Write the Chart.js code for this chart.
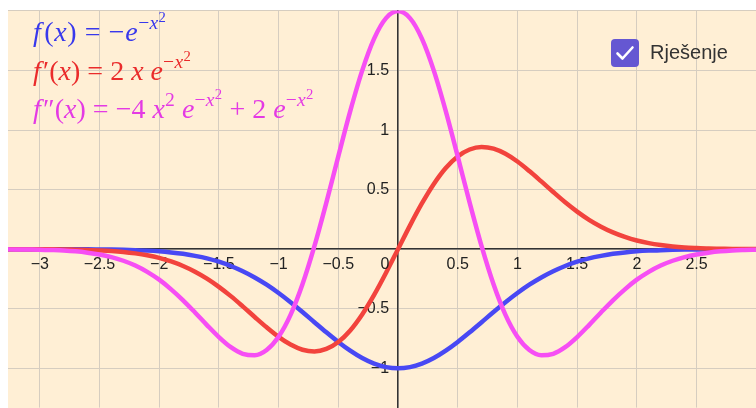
<!DOCTYPE html>
<html>
<head>
<meta charset="utf-8">
<script src="https://cdn.jsdelivr.net/npm/chart.js@4"></script>
<style>
  html, body { margin: 0; padding: 0; background: #fff; }
  body { width: 756px; height: 408px; position: relative; overflow: hidden; }
  #plot { position: absolute; left: 8px; top: 10px; width: 748px; height: 398px; background: #ffefd5; }
  .formula { position: absolute; left: 33px; font-family: "Liberation Serif", "DejaVu Serif", serif; font-size: 28px; line-height: 28px; white-space: nowrap; letter-spacing: 0; }
  .formula i { font-style: italic; }
  .sup { font-size: 0.7em; position: relative; top: -0.62em; letter-spacing: 0.3px; }
  .sup .sup { font-size: 0.75em; top: -0.5em; }
  #f1 { top: 18px; color: #3838ec; letter-spacing: 0.6px; }
  #f2 { top: 57px; color: #ea2b2b; }
  #f3 { top: 95px; color: #e43ae4; }
  #cb { position: absolute; left: 611px; top: 39px; width: 28px; height: 28px; background: #6557d2; border-radius: 4px; }
  #cbl { position: absolute; left: 650px; top: 42px; font: 20px "Liberation Sans", Arial, sans-serif; line-height: 20px; color: #333; }
</style>
</head>
<body>
<div id="plot"><canvas id="graph"></canvas></div>

<div class="formula" id="f1"><i>f</i>&#8202;(<i>x</i>) = −<i>e</i><span class="sup">−<i>x</i><span class="sup">2</span></span></div>
<div class="formula" id="f2"><i>f</i>&#8202;′(<i>x</i>) = 2 <i>x</i> <i>e</i><span class="sup">−<i>x</i><span class="sup">2</span></span></div>
<div class="formula" id="f3"><i>f</i>&#8202;″(<i>x</i>) = −4 <i>x</i><span class="sup">2</span> <i>e</i><span class="sup">−<i>x</i><span class="sup">2</span></span> + 2 <i>e</i><span class="sup">−<i>x</i><span class="sup">2</span></span></div>

<div id="cb">
  <svg width="28" height="28" viewBox="0 0 28 28"><polyline points="6.5 14.5 11.5 19.5 21.5 8.5" fill="none" stroke="#fff" stroke-width="2.6" stroke-linecap="round" stroke-linejoin="round"/></svg>
</div>
<div id="cbl">Rješenje</div>

<script>
// sample positions along x
const xs = [-3.3,-3.2,-3.1,-3.0,-2.9,-2.8,-2.7,-2.6,-2.5,-2.4,-2.3,-2.2,-2.1,-2.0,-1.9,-1.8,-1.7,-1.6,-1.5,-1.4,-1.3,-1.2,-1.1,-1.0,-0.9,-0.8,-0.7,-0.6,-0.5,-0.4,-0.3,-0.2,-0.1,0,
  0.1,0.2,0.3,0.4,0.5,0.6,0.7,0.8,0.9,1.0,1.1,1.2,1.3,1.4,1.5,1.6,1.7,1.8,1.9,2.0,2.1,2.2,2.3,2.4,2.5,2.6,2.7,2.8,2.9,3.0];

// f(x) — blue
const fVals = [0,0,0,0,0,0,-0.001,-0.001,-0.002,-0.003,-0.005,-0.008,-0.012,-0.018,-0.027,-0.039,-0.056,-0.077,-0.105,-0.141,-0.185,-0.237,-0.298,-0.368,-0.445,-0.527,-0.613,-0.698,-0.779,-0.852,-0.914,-0.961,-0.990,-1,
  -0.990,-0.961,-0.914,-0.852,-0.779,-0.698,-0.613,-0.527,-0.445,-0.368,-0.298,-0.237,-0.185,-0.141,-0.105,-0.077,-0.056,-0.039,-0.027,-0.018,-0.012,-0.008,-0.005,-0.003,-0.002,-0.001,-0.001,0,0,0];

// f'(x) — red
const f1Vals = [0,0,0,-0.001,-0.001,-0.002,-0.004,-0.006,-0.010,-0.015,-0.023,-0.035,-0.051,-0.073,-0.103,-0.141,-0.189,-0.247,-0.316,-0.394,-0.480,-0.569,-0.656,-0.736,-0.801,-0.844,-0.858,-0.837,-0.779,-0.682,-0.548,-0.384,-0.198,0,
  0.198,0.384,0.548,0.682,0.779,0.837,0.858,0.844,0.801,0.736,0.656,0.569,0.480,0.394,0.316,0.247,0.189,0.141,0.103,0.073,0.051,0.035,0.023,0.015,0.010,0.006,0.004,0.002,0.001,0.001];

// f''(x) — magenta
const f2Vals = [-0.001,-0.002,-0.003,-0.004,-0.007,-0.011,-0.018,-0.029,-0.044,-0.066,-0.097,-0.137,-0.190,-0.256,-0.337,-0.429,-0.531,-0.637,-0.738,-0.823,-0.878,-0.891,-0.847,-0.736,-0.552,-0.295,0.025,0.391,0.779,1.159,1.499,1.768,1.940,2,
  1.940,1.768,1.499,1.159,0.779,0.391,0.025,-0.295,-0.552,-0.736,-0.847,-0.891,-0.878,-0.823,-0.738,-0.637,-0.531,-0.429,-0.337,-0.256,-0.190,-0.137,-0.097,-0.066,-0.044,-0.029,-0.018,-0.011,-0.007,-0.004];

const xRange = [-3.266, 2.998];
const yRange = [-1.33, 2.005];
const tickStep = 0.5;
const hiddenYLabels = [0, 2];

const pts = vals => xs.map((x, i) => ({ x, y: vals[i] }));
const fmt = v => String(v).replace('-', '\u2212');

/* "0" at the origin, drawn left-below like the reference */
const originLabel = {
  id: 'originLabel',
  afterDraw(chart) {
    const { ctx, scales } = chart;
    ctx.save();
    ctx.font = '16px "Liberation Sans", Arial, sans-serif';
    ctx.fillStyle = '#222';
    ctx.textAlign = 'center';
    ctx.textBaseline = 'middle';
    ctx.fillText('0', scales.x.getPixelForValue(0) - 13, scales.y.getPixelForValue(0) + 15);
    ctx.restore();
  }
};

const line = (data, color, order) => ({
  data: pts(data),
  borderColor: color,
  borderWidth: 4.5,
  pointRadius: 0,
  cubicInterpolationMode: 'monotone',
  fill: false,
  order
});

new Chart(document.getElementById('graph'), {
  type: 'line',
  data: {
    datasets: [
      line(fVals,  '#4848f4', 2),
      line(f1Vals, '#f2433d', 1),
      line(f2Vals, '#f64ef4', 0)
    ]
  },
  options: {
    responsive: true,
    maintainAspectRatio: false,
    animation: false,
    layout: { padding: 0 },
    plugins: { legend: { display: false }, tooltip: { enabled: false } },
    scales: {
      x: {
        type: 'linear',
        position: { y: 0 },
        min: xRange[0], max: xRange[1],
        grid: { color: '#d6cdc0', lineWidth: 1, drawTicks: false },
        border: { color: '#333', width: 1.5 },
        ticks: {
          stepSize: tickStep, includeBounds: false, autoSkip: false, maxRotation: 0, padding: 6,
          color: '#222', font: { family: '"Liberation Sans", Arial, sans-serif', size: 16 },
          callback: v => v === 0 ? '' : fmt(v)
        }
      },
      y: {
        type: 'linear',
        position: { x: 0 },
        min: yRange[0], max: yRange[1],
        grid: { color: '#d6cdc0', lineWidth: 1, drawTicks: false },
        border: { color: '#333', width: 1.5 },
        ticks: {
          stepSize: tickStep, includeBounds: false, autoSkip: false, padding: 0,
          color: '#222', font: { family: '"Liberation Sans", Arial, sans-serif', size: 16, lineHeight: 0.05 },
          callback: v => hiddenYLabels.includes(v) ? '' : fmt(v) + '  '
        }
      }
    }
  },
  plugins: [originLabel]
});
</script>
</body>
</html>
